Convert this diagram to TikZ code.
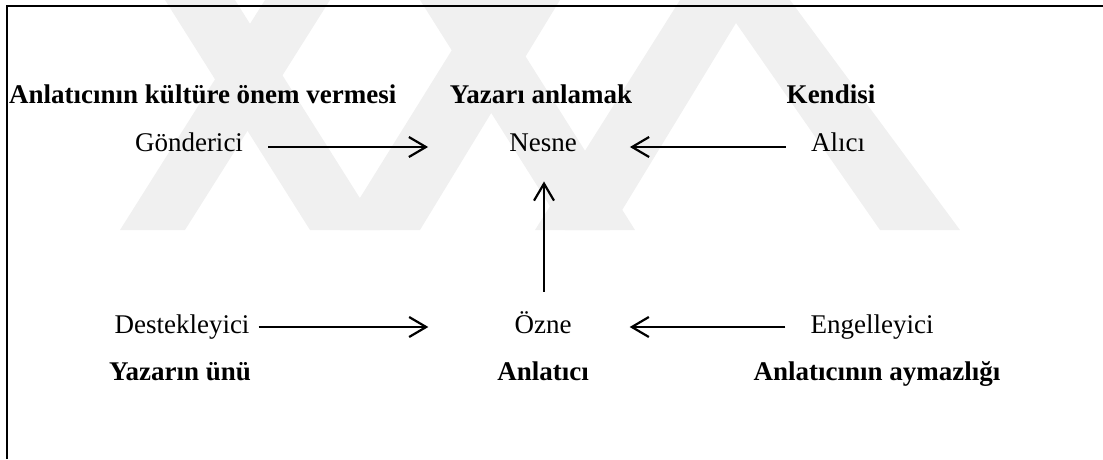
\documentclass[tikz,border=0pt]{standalone}
\usepackage{fontspec}
\setmainfont{Liberation Serif}
\usetikzlibrary{arrows.meta,calc}
\begin{document}
\begin{tikzpicture}[x=1pt,y=-1pt,
  lbl/.style={font=\fontsize{27}{30}\selectfont, inner sep=0pt, anchor=base},
  blbl/.style={font=\fontsize{27}{30}\selectfont\bfseries, inner sep=0pt, anchor=base},
  arr/.style={line width=2.2pt, -{Straight Barb[length=17pt,width=20pt,line width=2.2pt]}},
  framel/.style={line width=2pt},
  wm/.style={fill=black!6, draw=none}]
\useasboundingbox (0,0) rectangle (1103,459);
% faint watermark
\fill[wm] (265,0) -- (330,0) -- (185,230) -- (120,230) -- cycle;
\fill[wm] (165,0) -- (235,0) -- (380,230) -- (310,230) -- cycle;
\fill[wm] (483,0) -- (560,0) -- (420,230) -- (340,230) -- cycle;
\fill[wm] (420,0) -- (490,0) -- (635,230) -- (565,230) -- cycle;
\fill[wm] (680,0) -- (750,0) -- (610,230) -- (535,230) -- cycle;
\fill[wm] (720,0) -- (790,0) -- (960,230) -- (880,230) -- cycle;
% frame
\draw[framel] (7,459) -- (7,6) -- (1103,6);
% bold labels
\node[blbl, anchor=base west] (kult) at (9,103) {Anlatıcının kültüre önem vermesi};
\node[blbl] (yazar) at (541,103) {Yazarı anlamak};
\node[blbl] (kendi) at (831,103) {Kendisi};
\node[blbl] (unu) at (180,380) {Yazarın ünü};
\node[blbl] (anl) at (543,380) {Anlatıcı};
\node[blbl] (aym) at (877,380) {Anlatıcının aymazlığı};
% actant labels
\node[lbl] (gond) at (189,151) {Gönderici};
\node[lbl] (nesne) at (543,151) {Nesne};
\node[lbl] (alici) at (838,151) {Alıcı};
\node[lbl] (destek) at (182,333) {Destekleyici};
\node[lbl] (ozne) at (543,333) {Özne};
\node[lbl] (engel) at (872,333) {Engelleyici};
% arrows
\draw[arr, shorten <=25pt, shorten >=81pt] ($(gond.base east)+(0,-4)$) -- ($(nesne.base west)+(0,-4)$);
\draw[arr, shorten <=25pt, shorten >=53pt] ($(alici.base west)+(0,-4)$) -- ($(nesne.base east)+(0,-4)$);
\draw[arr, shorten <=19pt, shorten >=30pt] ($(ozne.north)+(1,0)$) -- ($(nesne.south)+(1,0)$);
\draw[arr, shorten <=9pt, shorten >=86pt] ($(destek.base east)+(0,-6)$) -- ($(ozne.base west)+(0,-6)$);
\draw[arr, shorten <=25pt, shorten >=58pt] ($(engel.base west)+(0,-6)$) -- ($(ozne.base east)+(0,-6)$);
\end{tikzpicture}
\end{document}
